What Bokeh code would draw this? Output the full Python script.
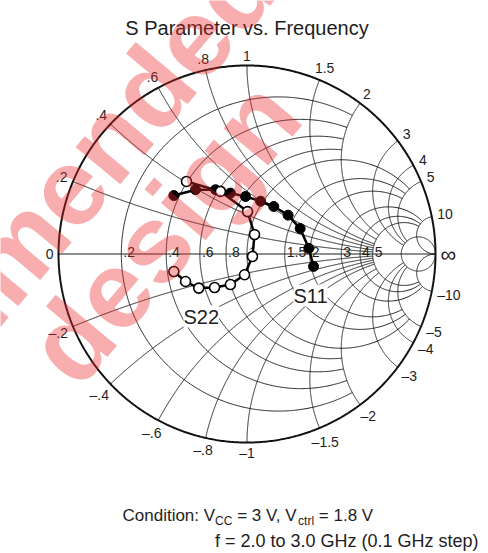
import numpy as np
from bokeh.plotting import figure
from bokeh.models import Range1d, Label
from bokeh.core.properties import value
from bokeh.embed import file_html
from bokeh.resources import INLINE

# ---------------- data (reflection coefficients, 2.0 to 3.0 GHz, 0.1 GHz step) ----
freq_ghz = [2.0, 2.1, 2.2, 2.3, 2.4, 2.5, 2.6, 2.7, 2.8, 2.9, 3.0]
s11_re = [-0.388, -0.273, -0.167, -0.088, -0.008, 0.072, 0.142, 0.218, 0.282, 0.328, 0.353]
s11_im = [0.310, 0.341, 0.341, 0.323, 0.305, 0.280, 0.252, 0.206, 0.135, 0.030, -0.066]
s22_re = [-0.321, -0.141, 0.003, 0.040, 0.029, -0.013, -0.088, -0.172, -0.256, -0.326, -0.388]
s22_im = [0.385, 0.332, 0.225, 0.103, -0.013, -0.110, -0.162, -0.178, -0.181, -0.146, -0.093]

# Smith chart grid values and labels
r_values = [0.2, 0.4, 0.6, 0.8, 1.0, 1.5, 2.0, 3.0, 4.0, 5.0, 10.0]
x_values = [0.2, 0.4, 0.6, 0.8, 1.0, 1.5, 2.0, 3.0, 4.0, 5.0, 10.0]
r_labels = [".2", ".4", ".6", ".8", "1", "1.5", "2", "3", "4", "5"]
x_labels = [".2", ".4", ".6", ".8", "1", "1.5", "2", "3", "4", "5", "10"]
# grid clipping: resistance circles drawn for |x| <= limit, reactance arcs for r <= limit
r_xlimit = [2, 2, 2, 2, 5, 5, 5, 10, 10, 10, None]
x_rlimit = [5, 5, 5, 5, 5, 5, 5, 10, 10, 10, None]

title_text = "S Parameter vs. Frequency"
cond_pieces = [("Condition: V", False), ("CC", True), (" = 3 V, V", False), ("ctrl", True), (" = 1.8 V", False)]
cond_line2 = "f = 2.0 to 3.0 GHz (0.1 GHz step)"
watermark_rows = ["Not recommended", "design"]

# ---------------- layout ----------------
W, H = 488, 553
CX, CY, R = 246.5, 253.5, 188.5   # pixel position of chart centre and radius
FONT = "Liberation Sans"

REG = {' ': .278, '.': .278, ',': .278, ':': .278, '=': .584, '(': .333, ')': .333,
       'C': .722, 'G': .778, 'H': .722, 'V': .667, 'S': .667, 'P': .667, 'F': .611,
       'a': .556, 'c': .5, 'd': .556, 'e': .556, 'f': .278, 'g': .556, 'i': .222,
       'l': .222, 'm': .833, 'n': .556, 'o': .556, 'p': .556, 'q': .556, 'r': .333,
       's': .5, 't': .278, 'u': .556, 'v': .5, 'y': .5, 'z': .5, '\u2013': .556, '\u221e': .713}
BOLD = {' ': .278, 'N': .722, 'o': .611, 't': .333, 'r': .389, 'e': .556, 'c': .556,
        'm': .889, 'n': .611, 'd': .611, 'f': .333, 'w': .778, 's': .556, 'i': .278, 'g': .611}


def tw(s, size, table=REG):
    return sum(table.get(ch, 0.556) for ch in s) * size


def px(xp):
    return (xp - CX) / R


def py(yp):
    return (CY - yp) / R


def gamma(z):
    return (z - 1) / (z + 1)


p = figure(width=W, height=H, x_range=Range1d(px(0), px(W)), y_range=Range1d(py(H), py(0)),
           output_backend="svg", toolbar_location=None, min_border=0,
           x_axis_type=None, y_axis_type=None, outline_line_color=None)
p.grid.visible = False
p.background_fill_color = "white"
p.border_fill_color = "white"

# ---------------- grid ----------------
def r_curve(r, xmax):
    if xmax is None:
        t = np.linspace(0, 2 * np.pi, 721)
        c, rad = r / (1 + r), 1 / (1 + r)
        return list(c + rad * np.cos(t)), list(rad * np.sin(t))
    t = np.linspace(-np.arctan(xmax), np.arctan(xmax), 700)
    g = gamma(r + 1j * np.tan(t))
    return list(g.real), list(g.imag)


def x_curve(x, rmax):
    top = np.arctan(rmax) if rmax is not None else np.pi / 2 - 1e-6
    t = np.linspace(0, top, 700)
    g = gamma(np.tan(t) + 1j * x)
    return list(g.real), list(g.imag)


xs, ys = [], []
for r, lim in zip(r_values, r_xlimit):
    a, b = r_curve(r, lim)
    xs.append(a); ys.append(b)
for x, lim in zip(x_values, x_rlimit):
    for sgn in (1, -1):
        a, b = x_curve(sgn * x, lim)
        xs.append(a); ys.append(b)
p.multi_line(xs, ys, line_color="#1e1e1e", line_width=1)

# real axis from r = 0 to r = infinity
ax = gamma(np.array([0.0, 1e9]))
p.line(list(ax.real), list(ax.imag), line_color="#1e1e1e", line_width=1.2)
# outer circle r = 0
oa, ob = r_curve(0.0, None)
p.line(oa, ob, line_color="#111111", line_width=2)

# ---------------- tick labels ----------------
tick_font = "14px"
lx, ly, lt = [], [], []
for r, s in zip(r_values, r_labels):
    g = gamma(r)
    lx.append(g + 2 / R); ly.append(2 / R); lt.append(s)
p.text(lx, ly, text=lt, text_font=value(FONT), text_font_size=tick_font,
       text_align="left", text_baseline="alphabetic", text_color="#1e1e1e")

rx, ry, rt = [], [], []
def rim_place(g, s, size):
    th = np.angle(g)
    w = tw(s, size)
    d = 5 + w / 2 * abs(np.cos(th)) + 5 * abs(np.sin(th))
    return g.real + d / R * np.cos(th), g.imag + d / R * np.sin(th)

for x, s in zip(x_values, x_labels):
    for sgn in (1, -1):
        g = gamma(1j * sgn * x)
        lab = s if sgn > 0 else "\u2013" + s
        a, b = rim_place(g, lab, 14)
        rx.append(a); ry.append(b); rt.append(lab)
g0 = gamma(0.0 + 0j)
a, b = rim_place(g0, "0", 14)
rx.append(a); ry.append(b); rt.append("0")
p.text(rx, ry, text=rt, text_font=value(FONT), text_font_size=tick_font,
       text_align="center", text_baseline="middle", text_color="#1e1e1e")
ginf = gamma(1e9 + 0j)
a, b = rim_place(ginf, "\u221e", 22)
p.text([a], [b], text=["\u221e"], text_font=value(FONT), text_font_size="22px",
       text_align="center", text_baseline="middle", text_color="#1e1e1e")

# ---------------- data ----------------
p.line(s11_re, s11_im, line_color="black", line_width=2.5)
p.scatter(s11_re, s11_im, marker="circle", size=10, fill_color="black", line_color="black")
p.line(s22_re, s22_im, line_color="black", line_width=2.5)
p.scatter(s22_re, s22_im, marker="circle", size=10, fill_color="white", line_color="black", line_width=1.6)

for txt, xp, yp in (("S11", 293, 295), ("S22", 183, 316)):
    p.add_layout(Label(x=px(xp), y=py(yp), text=txt, text_font=FONT, text_font_size="20px",
                       text_align="left", text_baseline="alphabetic", text_color="#1e1e1e",
                       background_fill_color="white", background_fill_alpha=1.0))

# ---------------- title & condition text ----------------
p.add_layout(Label(x=px(246.5), y=py(27), text=title_text, text_font=FONT, text_font_size="20px",
                   text_align="center", text_baseline="alphabetic", text_color="#1e1e1e"))

MAIN, SUB = 17, 12
xcur = 122
for s, is_sub in cond_pieces:
    size = SUB if is_sub else MAIN
    yb = 520 if is_sub else 515
    lead = len(s) - len(s.lstrip(" "))
    p.add_layout(Label(x=px(xcur + tw(" " * lead, size)), y=py(yb), text=s.strip(" "), text_font=FONT,
                       text_font_size=f"{size}px", text_align="left", text_baseline="alphabetic",
                       text_color="#1e1e1e"))
    xcur += tw(s, size)
p.add_layout(Label(x=px(478), y=py(540), text=cond_line2, text_font=FONT, text_font_size="18px",
                   text_align="right", text_baseline="alphabetic", text_color="#1e1e1e"))

# ---------------- watermark ----------------
WF = 110
th = np.radians(50)
u = np.array([np.cos(th), -np.sin(th)])
up = np.array([-np.sin(th), -np.cos(th)])
# (row text, index of a reference letter, pixel position of that letter's centre)
for row, idx, centre in ((watermark_rows[0], 11, (85, 121)), (watermark_rows[1], 5, (233, 102))):
    before = tw(row[:idx], WF, BOLD) + tw(row[idx], WF, BOLD) / 2
    start = np.array(centre) - up * 0.26 * WF - u * before
    p.add_layout(Label(x=px(start[0]), y=py(start[1]), text=row, angle=th, text_font=FONT,
                       text_font_style="bold", text_font_size=f"{WF}px", text_color="#ec2a2a",
                       text_alpha=0.38, text_align="left", text_baseline="alphabetic"))

open("out.html", "w").write(file_html(p, INLINE))
